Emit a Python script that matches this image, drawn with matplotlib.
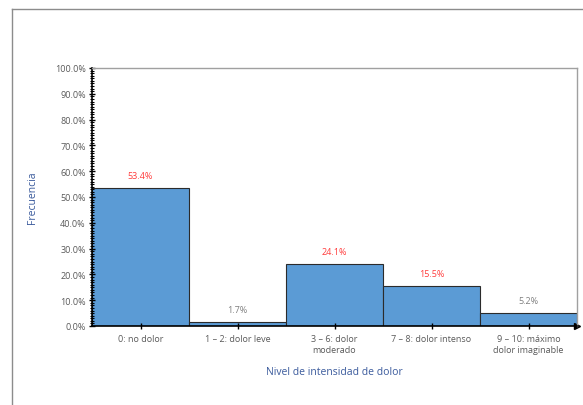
import matplotlib.pyplot as plt
from matplotlib.lines import Line2D
from matplotlib.ticker import MultipleLocator, FuncFormatter

categorias = ["0: no dolor", "1 \u2013 2: dolor leve", "3 \u2013 6: dolor\nmoderado",
              "7 \u2013 8: dolor intenso", "9 \u2013 10: máximo\ndolor imaginable"]
frecuencia = [53.4, 1.7, 24.1, 15.5, 5.2]
color_etiqueta = ["#FF3B3B", "#7F7F7F", "#FF3B3B", "#FF3B3B", "#7F7F7F"]

plt.rcParams['font.family'] = ['Open Sans', 'DejaVu Sans']

fig = plt.figure(figsize=(5.83, 4.06), dpi=100)
ax = fig.add_axes([92 / 583, 1 - 327 / 406, 485 / 583, 258 / 406])

x = list(range(len(categorias)))
ax.bar(x, frecuencia, width=1.0, color="#5B9BD5", edgecolor="#2B2B2B", linewidth=0.8)

for xi, v, c in zip(x, frecuencia, color_etiqueta):
    ax.text(xi, v + 3.0, f"{v:.1f}%", ha="center", va="bottom", fontsize=6.5, color=c)

ax.set_xlim(-0.5, len(categorias) - 0.5)
ax.set_ylim(0, 100)
ax.yaxis.set_major_locator(MultipleLocator(10))
ax.yaxis.set_minor_locator(MultipleLocator(1))
ax.yaxis.set_major_formatter(FuncFormatter(lambda v, _: f"{v:.1f}%"))
ax.set_xticks(x)
ax.set_xticklabels(categorias)

ax.tick_params(axis="y", which="major", direction="inout", length=5, width=1.0,
               labelsize=6.5, labelcolor="#595959", pad=2)
ax.tick_params(axis="y", which="minor", direction="inout", length=3, width=0.8)
ax.tick_params(axis="x", direction="inout", length=4, width=1.0,
               labelsize=6.5, labelcolor="#595959", pad=4)

for lado in ("top", "right"):
    ax.spines[lado].set_color("#A0A0A0")
    ax.spines[lado].set_linewidth(1.0)
for lado in ("left", "bottom"):
    ax.spines[lado].set_color("black")
    ax.spines[lado].set_linewidth(1.2)

# flecha al final del eje x
ax.plot(1.0, 0, marker=">", color="black", markersize=4,
        transform=ax.get_yaxis_transform(), clip_on=False)

ax.set_ylabel("Frecuencia", fontsize=7.5, color="#3A5A9C", labelpad=12)
ax.set_xlabel("Nivel de intensidad de dolor", fontsize=7.5, color="#3A5A9C", labelpad=9)

# marco exterior del gráfico
fig.add_artist(Line2D([12 / 583, 12 / 583], [0, 1 - 10 / 406], transform=fig.transFigure,
                      color="#8C8C8C", linewidth=1.0))
fig.add_artist(Line2D([12 / 583, 1], [1 - 10 / 406, 1 - 10 / 406], transform=fig.transFigure,
                      color="#8C8C8C", linewidth=1.0))

fig.savefig("out.png", dpi=100)
